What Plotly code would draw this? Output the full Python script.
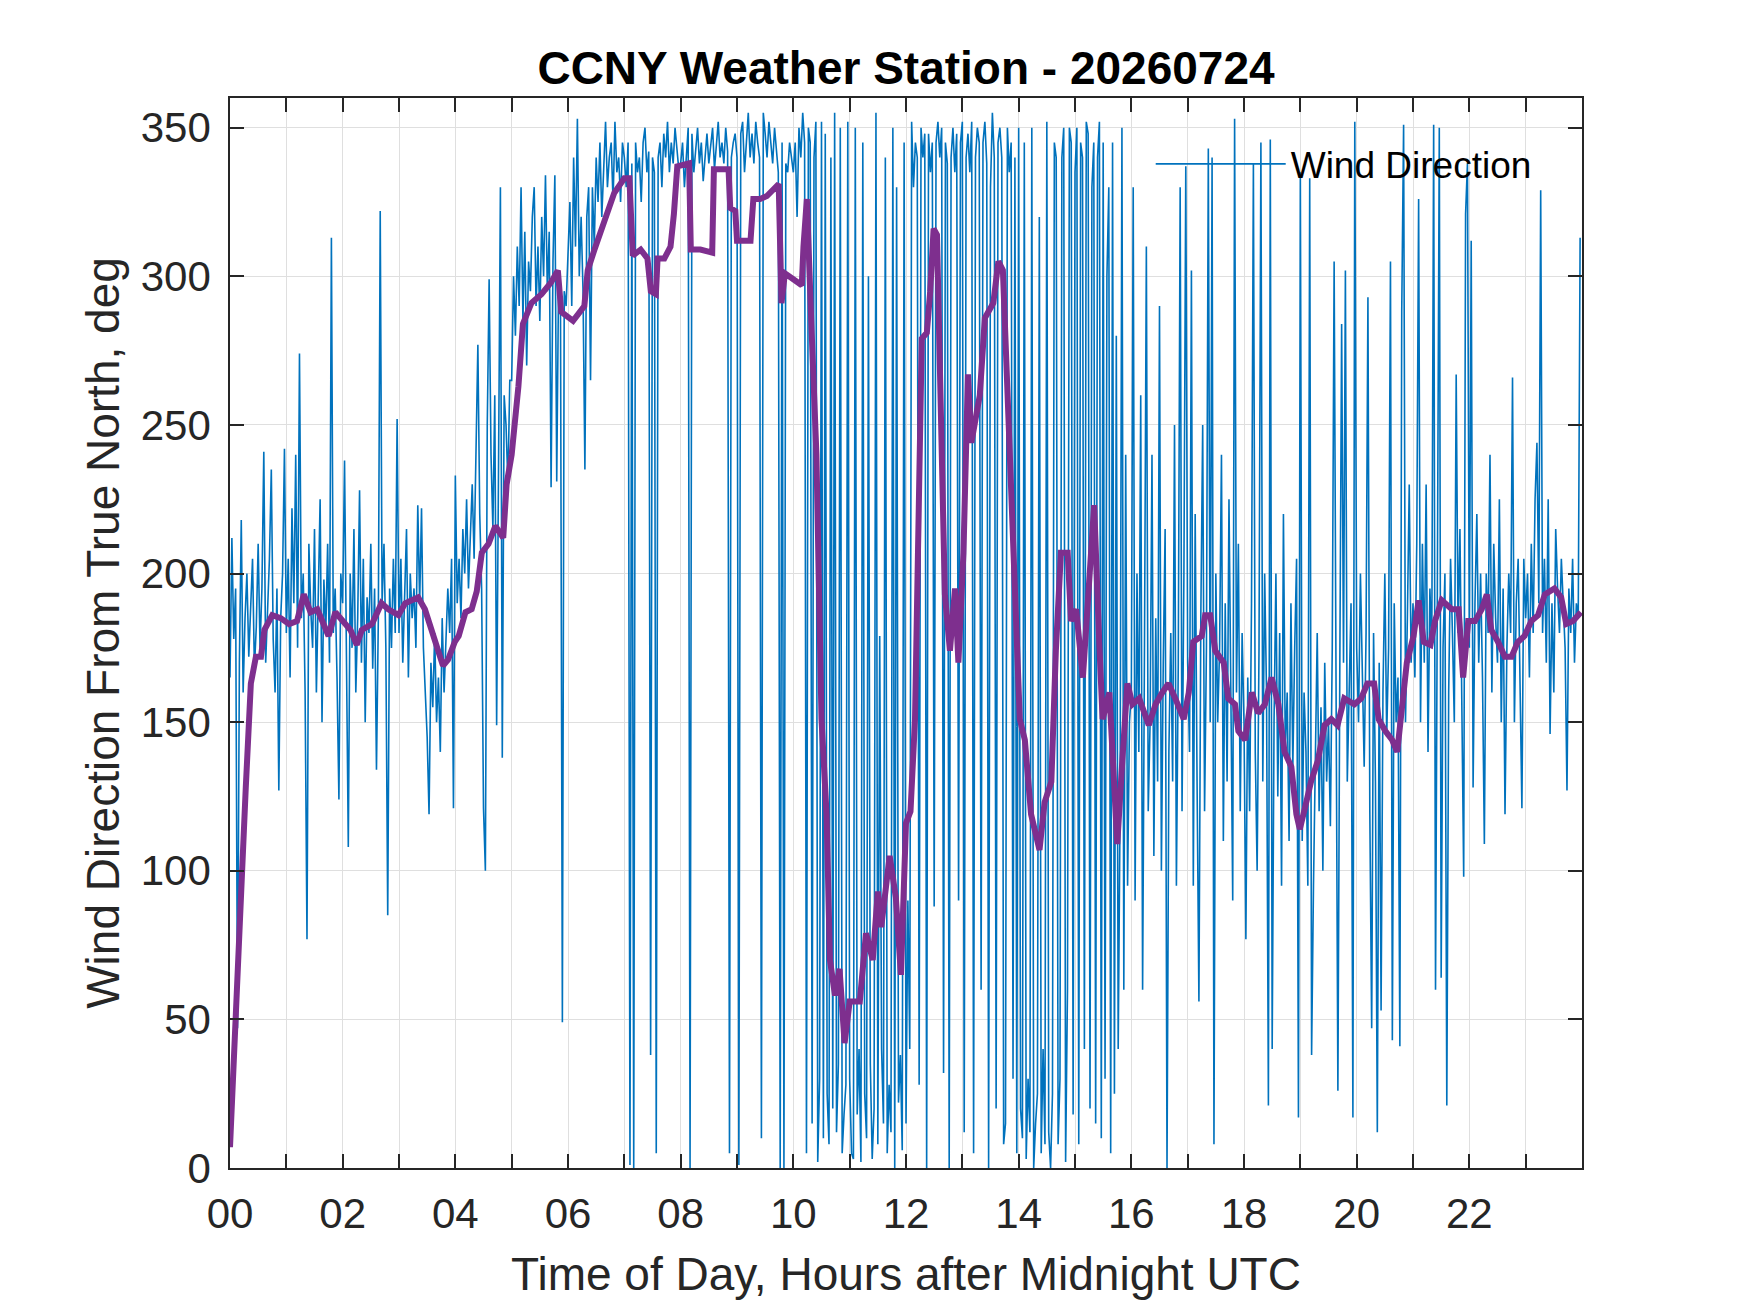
import numpy as np
import plotly.graph_objects as go

# raw wind direction, one reading every 2 minutes, 30 per hour
h00 = [165, 212, 178, 195, 47, 170, 218, 160, 185, 200, 172, 190, 205, 168, 182, 210, 175, 195, 241, 170, 188, 205, 235, 178, 160, 195, 127, 185, 200, 242]
h01 = [180, 205, 165, 222, 190, 240, 175, 274, 185, 200, 160, 77, 210, 188, 175, 215, 160, 190, 225, 150, 198, 180, 210, 170, 313, 180, 195, 165, 124, 200]
h02 = [190, 238, 175, 108, 200, 175, 215, 160, 185, 228, 170, 205, 150, 192, 180, 210, 168, 195, 134, 185, 322, 190, 210, 175, 85, 195, 175, 205, 180, 252]
h03 = [180, 205, 170, 195, 215, 165, 200, 185, 195, 175, 223, 190, 222, 175, 160, 145, 119, 170, 155, 180, 150, 165, 140, 185, 160, 175, 195, 180, 205, 121]
h04 = [233, 190, 205, 185, 215, 200, 225, 195, 210, 230, 205, 245, 277, 220, 195, 121, 100, 250, 299, 240, 215, 260, 149, 235, 330, 138, 260, 250, 230, 265]
h05 = [265, 300, 280, 310, 290, 330, 285, 315, 270, 305, 295, 320, 330, 290, 310, 285, 320, 300, 334, 295, 315, 229, 305, 334, 231, 300, 290, 49, 295, 290]
h06 = [305, 325, 290, 340, 310, 353, 300, 320, 295, 235, 320, 330, 265, 330, 310, 340, 325, 345, 320, 335, 352, 330, 340, 345, 325, 352, 335, 340, 325, 345]
h07 = [340, 330, 345, 1, 338, 0, 345, 335, 340, 325, 345, 350, 335, 342, 38, 340, 335, 5, 340, 345, 330, 348, 340, 352, 335, 345, 338, 350, 342, 336]
h08 = [338, 345, 330, 340, 350, 0, 348, 335, 342, 350, 338, 345, 332, 340, 348, 338, 345, 350, 336, 343, 352, 340, 345, 338, 350, 342, 5, 340, 345, 348]
h09 = [340, 1, 348, 352, 335, 345, 355, 340, 348, 338, 352, 345, 340, 10, 355, 348, 340, 352, 345, 338, 350, 342, 335, 0, 345, 0, 338, 335, 345, 340]
h10 = [335, 345, 320, 350, 340, 355, 345, 5, 350, 345, 15, 340, 352, 2, 30, 352, 10, 348, 25, 8, 340, 20, 355, 12, 35, 350, 5, 18, 28, 352]
h11 = [30, 5, 3, 350, 18, 40, 2, 345, 25, 10, 300, 35, 3, 20, 355, 8, 179, 40, 15, 340, 5, 28, 12, 350, 0, 330, 22, 38, 6, 345]
h12 = [15, 90, 40, 352, 330, 345, 340, 28, 350, 340, 348, 0, 348, 335, 345, 88, 345, 352, 340, 350, 32, 345, 338, 0, 340, 350, 335, 348, 90, 345]
h13 = [352, 12, 340, 348, 335, 352, 5, 340, 350, 345, 60, 345, 352, 338, 0, 330, 355, 340, 20, 345, 350, 340, 8, 15, 350, 335, 345, 30, 340, 5]
h14 = [350, 20, 10, 345, 3, 30, 12, 350, 0, 15, 25, 320, 5, 40, 8, 352, 12, 0, 25, 345, 340, 8, 30, 340, 350, 2, 60, 350, 345, 18]
h15 = [335, 350, 8, 345, 340, 40, 352, 348, 20, 330, 345, 15, 340, 352, 10, 345, 30, 300, 330, 5, 345, 25, 280, 40, 120, 350, 60, 240, 95, 150]
h16 = [160, 330, 90, 200, 140, 260, 60, 175, 310, 120, 150, 240, 105, 185, 130, 290, 100, 170, 215, 0, 140, 180, 130, 250, 95, 170, 330, 120, 200, 337]
h17 = [170, 140, 302, 95, 220, 130, 56, 185, 250, 120, 175, 343, 150, 340, 8, 200, 150, 175, 240, 110, 190, 130, 225, 160, 90, 353, 160, 210, 120, 180]
h18 = [150, 77, 165, 120, 190, 338, 140, 100, 175, 345, 130, 200, 160, 21, 346, 40, 150, 200, 125, 180, 95, 220, 140, 160, 110, 190, 135, 175, 205, 17]
h19 = [335, 110, 160, 140, 95, 333, 38, 95, 140, 180, 120, 155, 100, 170, 130, 150, 115, 175, 305, 140, 26, 165, 284, 170, 302, 130, 160, 190, 17, 352]
h20 = [175, 150, 200, 160, 135, 180, 293, 120, 47, 180, 130, 12, 170, 53, 160, 200, 145, 175, 305, 43, 190, 150, 165, 41, 288, 351, 150, 185, 230, 170]
h21 = [190, 165, 210, 326, 150, 210, 170, 230, 140, 195, 175, 351, 60, 200, 350, 64, 175, 200, 21, 160, 205, 180, 150, 267, 180, 215, 160, 98, 321, 338]
h22 = [175, 312, 128, 190, 220, 170, 200, 165, 109, 200, 180, 240, 160, 210, 185, 170, 225, 150, 195, 119, 175, 200, 180, 266, 150, 190, 205, 165, 121, 205]
h23 = [185, 200, 165, 210, 180, 225, 244, 190, 329, 180, 205, 170, 225, 146, 190, 160, 215, 195, 180, 205, 190, 175, 127, 195, 180, 205, 170, 190, 185, 313]

wind_dir = (h00 + h01 + h02 + h03 + h04 + h05 + h06 + h07 + h08 + h09 + h10 + h11
            + h12 + h13 + h14 + h15 + h16 + h17 + h18 + h19 + h20 + h21 + h22 + h23)
wind_hours = np.arange(len(wind_dir)) * 2 / 60.0

# smoothed direction (purple)
smooth_hours = [0.00, 0.11, 0.19, 0.28, 0.37, 0.46, 0.55, 0.61, 0.75, 0.90, 1.05, 1.19, 1.31, 1.43,
                1.55, 1.64, 1.75, 1.87, 1.99, 2.14, 2.25, 2.34, 2.52, 2.69, 2.81, 2.99, 3.11, 3.22,
                3.34, 3.46, 3.58, 3.69, 3.78, 3.87, 3.99, 4.06, 4.18, 4.29, 4.38, 4.47, 4.59, 4.71,
                4.85, 4.91, 5.00, 5.12, 5.20, 5.35, 5.53, 5.70, 5.82, 5.88, 6.09, 6.29, 6.35, 6.47,
                6.65, 6.82, 7.00, 7.09, 7.15, 7.29, 7.41, 7.47, 7.56, 7.59, 7.71, 7.82, 7.88, 7.94,
                8.15, 8.18, 8.35, 8.56, 8.59, 8.85, 8.88, 8.97, 9.00, 9.24, 9.29, 9.41, 9.53, 9.74,
                9.79, 9.85, 10.00, 10.15, 10.18, 10.24, 10.32, 10.41, 10.50, 10.59, 10.65, 10.74,
                10.82, 10.91, 11.00, 11.18, 11.29, 11.41, 11.50, 11.56, 11.71, 11.82, 11.91, 12.00,
                12.08, 12.16, 12.28, 12.37, 12.43, 12.49, 12.55, 12.60, 12.69, 12.78, 12.87, 12.93,
                13.02, 13.10, 13.16, 13.31, 13.40, 13.55, 13.64, 13.72, 13.81, 13.93, 14.02, 14.11,
                14.22, 14.37, 14.46, 14.58, 14.66, 14.75, 14.87, 14.93, 15.02, 15.14, 15.25, 15.34,
                15.43, 15.49, 15.61, 15.69, 15.75, 15.84, 15.93, 16.02, 16.14, 16.31, 16.43, 16.55,
                16.66, 16.78, 16.93, 17.02, 17.10, 17.25, 17.31, 17.40, 17.49, 17.64, 17.72, 17.84,
                17.90, 18.02, 18.14, 18.25, 18.37, 18.49, 18.61, 18.72, 18.84, 18.93, 18.99, 19.08,
                19.19, 19.31, 19.43, 19.55, 19.66, 19.78, 19.96, 20.08, 20.19, 20.31, 20.39, 20.51,
                20.63, 20.72, 20.81, 20.89, 21.01, 21.10, 21.19, 21.31, 21.39, 21.51, 21.69, 21.81,
                21.89, 21.98, 22.10, 22.22, 22.31, 22.39, 22.51, 22.63, 22.75, 22.86, 22.98, 23.10,
                23.22, 23.34, 23.51, 23.63, 23.72, 23.84, 23.98]
smooth_dir = [7, 58, 93, 128, 163, 172, 172, 181, 186, 185, 183, 184, 193, 187,
              188, 184, 179, 187, 184, 181, 176, 181, 183, 190, 188, 186, 190, 191,
              192, 188, 181, 174, 169, 171, 177, 179, 187, 188, 194, 207, 210, 216,
              212, 230, 240, 263, 284, 291, 294, 298, 302, 288, 285, 290, 302, 309,
              319, 328, 333, 333, 307, 309, 306, 295, 294, 306, 306, 310, 321, 337,
              338, 309, 309, 308, 336, 336, 323, 322, 312, 312, 326, 326, 327, 331,
              291, 301, 299, 297, 310, 326, 284, 240, 151, 119, 70, 58,
              67, 42, 56, 56, 79, 70, 93, 81, 105, 91, 65, 116,
              120, 151, 279, 281, 295, 316, 314, 263, 193, 174, 195, 170,
              207, 267, 244, 260, 286, 291, 305, 302, 260, 198, 151, 144,
              119, 107, 123, 130, 174, 207, 207, 184, 188, 165, 195, 223,
              177, 151, 160, 128, 109, 137, 163, 156, 158, 149, 156, 160,
              163, 158, 151, 160, 177, 179, 186, 186, 174, 170, 158, 156,
              147, 144, 160, 153, 156, 165, 156, 140, 135, 119, 114, 121,
              130, 137, 149, 151, 149, 158, 156, 158, 163, 163, 151, 147,
              144, 140, 156, 170, 179, 191, 177, 176, 184, 191, 188, 188,
              165, 184, 184, 188, 193, 181, 177, 172, 172, 177, 179, 184,
              186, 193, 195, 192, 183, 184, 187]

hour_ticks = list(range(24))
hour_labels = ["%02d" % h if h % 2 == 0 else "" for h in hour_ticks]
deg_ticks = [0, 50, 100, 150, 200, 250, 300, 350]

fig = go.Figure()

fig.add_trace(go.Scatter(x=wind_hours, y=wind_dir, mode="lines", name="Wind Direction",
                         line=dict(color="#0072BD", width=1.6)))
fig.add_trace(go.Scatter(x=smooth_hours, y=smooth_dir, mode="lines", showlegend=False,
                         line=dict(color="#7E2F8E", width=6)))

axis_font = dict(family="Liberation Sans, Arial, sans-serif", size=42, color="#262626")
label_font = dict(family="Liberation Sans, Arial, sans-serif", size=46, color="#262626")

fig.update_layout(
    width=1750, height=1313,
    margin=dict(l=222, r=176, t=90, b=153),
    paper_bgcolor="white", plot_bgcolor="white",
    title=dict(text="<b>CCNY Weather Station - 20260724</b>", x=0.5, xref="paper",
               y=0.954, yref="container", yanchor="middle",
               font=dict(family="Liberation Sans, Arial, sans-serif", size=46, color="black")),
    legend=dict(x=0.681, y=0.938, xanchor="left", yanchor="middle", bgcolor="rgba(0,0,0,0)",
                itemwidth=130, font=dict(family="Liberation Sans, Arial, sans-serif", size=37, color="black")),
    xaxis=dict(range=[0, 24], tickvals=hour_ticks, ticktext=hour_labels, ticks="inside", ticklen=14,
               tickwidth=1.5, tickcolor="#262626", showline=True, linecolor="#262626", linewidth=1.5,
               mirror="ticks", showgrid=True, gridcolor="#dfdfdf", gridwidth=1.2, zeroline=False,
               tickfont=axis_font, ticklabelstandoff=8,
               title=dict(text="Time of Day, Hours after Midnight UTC", font=label_font, standoff=22)),
    yaxis=dict(range=[0, 360], tickvals=deg_ticks, ticks="inside", ticklen=14,
               tickwidth=1.5, tickcolor="#262626", showline=True, linecolor="#262626", linewidth=1.5,
               mirror="ticks", showgrid=True, gridcolor="#dfdfdf", gridwidth=1.2, zeroline=False,
               tickfont=axis_font, ticklabelstandoff=9,
               title=dict(text="Wind Direction From True North, deg", font=label_font, standoff=7)),
)

fig.write_html("out.html")
